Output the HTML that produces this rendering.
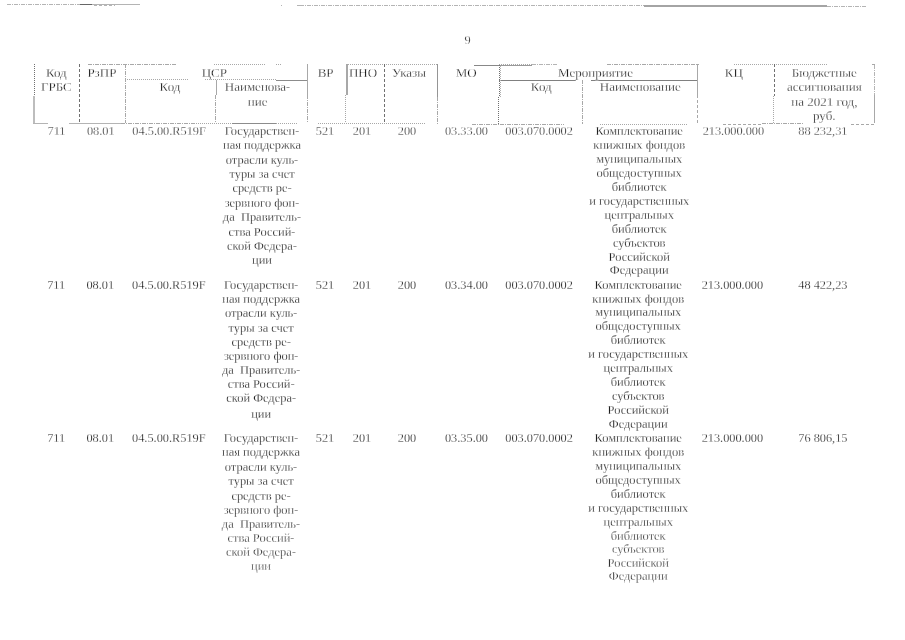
<!DOCTYPE html>
<html lang="ru"><head><meta charset="utf-8"><title>9</title>
<style>
html,body{margin:0;padding:0;background:#fff}
body{width:905px;height:640px;position:relative;overflow:hidden;font-family:"Liberation Serif",serif;font-size:12.45px;color:#000;-webkit-text-stroke:0.27px #fff}
.c{position:absolute;width:200px;text-align:center;white-space:nowrap;line-height:14px;height:14px}
.h{line-height:15px;height:15px}
.d1{-webkit-text-stroke-width:0.26px}
.f1{-webkit-text-stroke-width:0.3px}
.f2{-webkit-text-stroke-width:0.33px}
.f3{-webkit-text-stroke-width:0.37px}
i{position:absolute;display:block}
</style></head><body>
<i style="left:7px;top:4px;width:73px;height:1px;background:repeating-linear-gradient(to right,#b4b4b4 0 4px,transparent 4px 5px,#b4b4b4 5px 6px,transparent 6px 7px)"></i>
<i style="left:80px;top:4px;width:12px;height:1px;background:#666"></i>
<i style="left:92px;top:4px;width:48px;height:1px;background:#b4b4b4"></i>
<i style="left:94px;top:5px;width:21px;height:1px;background:repeating-linear-gradient(to right,#b4b4b4 0 3px,transparent 3px 5px)"></i>
<i style="left:281px;top:5px;width:1px;height:1px;background:#b4b4b4"></i>
<i style="left:297px;top:5px;width:3px;height:1px;background:#b4b4b4"></i>
<i style="left:300px;top:5px;width:344px;height:1px;background:repeating-linear-gradient(to right,#b4b4b4 0 4px,transparent 4px 5px,#b4b4b4 5px 6px,transparent 6px 7px)"></i>
<i style="left:644px;top:5px;width:183px;height:2px;background:#a4a4a4"></i>
<i style="left:827px;top:6px;width:39px;height:1px;background:repeating-linear-gradient(to right,#b4b4b4 0 4px,transparent 4px 5px,#b4b4b4 5px 6px,transparent 6px 7px)"></i>
<i style="left:88px;top:64px;width:88px;height:1px;background:repeating-linear-gradient(to right,#a8a8a8 0 4px,transparent 4px 5px,#a8a8a8 5px 6px,transparent 6px 7px)"></i>
<i style="left:214px;top:64px;width:51px;height:1px;background:repeating-linear-gradient(to right,#a8a8a8 0 1px,transparent 1px 2px)"></i>
<i style="left:276px;top:64px;width:6px;height:1px;background:repeating-linear-gradient(to right,#a8a8a8 0 1px,transparent 1px 2px)"></i>
<i style="left:346px;top:64px;width:92px;height:1px;background:repeating-linear-gradient(to right,#a8a8a8 0 1px,transparent 1px 2px)"></i>
<i style="left:474px;top:65px;width:25px;height:1px;background:#888"></i>
<i style="left:499px;top:65px;width:33px;height:1px;background:#999"></i>
<i style="left:499px;top:64px;width:33px;height:1px;background:repeating-linear-gradient(to right,#a8a8a8 0 1px,transparent 1px 2px)"></i>
<i style="left:532px;top:64px;width:26px;height:1px;background:repeating-linear-gradient(to right,#b4b4b4 0 4px,transparent 4px 5px,#b4b4b4 5px 6px,transparent 6px 7px)"></i>
<i style="left:607px;top:64px;width:92px;height:1px;background:repeating-linear-gradient(to right,#a8a8a8 0 4px,transparent 4px 5px,#a8a8a8 5px 6px,transparent 6px 7px)"></i>
<i style="left:734px;top:64px;width:93px;height:1px;background:repeating-linear-gradient(to right,#a8a8a8 0 1px,transparent 1px 2px)"></i>
<i style="left:872px;top:64px;width:3px;height:1px;background:#a8a8a8"></i>
<i style="left:125px;top:79px;width:64px;height:1px;background:repeating-linear-gradient(to right,#a8a8a8 0 1px,transparent 1px 2px)"></i>
<i style="left:205px;top:79px;width:71px;height:1px;background:repeating-linear-gradient(to right,#a8a8a8 0 1px,transparent 1px 2px)"></i>
<i style="left:276px;top:80px;width:32px;height:1px;background:#8c8c8c"></i>
<i style="left:499px;top:80px;width:77px;height:1px;background:#808080"></i>
<i style="left:591px;top:80px;width:107px;height:1px;background:#808080"></i>
<i style="left:33px;top:123px;width:15px;height:1px;background:#b4b4b4"></i>
<i style="left:69px;top:123px;width:52px;height:1px;background:#b4b4b4"></i>
<i style="left:121px;top:123px;width:77px;height:1px;background:repeating-linear-gradient(to right,#a8a8a8 0 4px,transparent 4px 5px,#a8a8a8 5px 6px,transparent 6px 7px)"></i>
<i style="left:198px;top:123px;width:34px;height:1px;background:repeating-linear-gradient(to right,#a8a8a8 0 1px,transparent 1px 2px)"></i>
<i style="left:232px;top:123px;width:44px;height:1px;background:#8c8c8c"></i>
<i style="left:276px;top:123px;width:22px;height:1px;background:repeating-linear-gradient(to right,#a8a8a8 0 1px,transparent 1px 2px)"></i>
<i style="left:318px;top:123px;width:107px;height:1px;background:repeating-linear-gradient(to right,#a8a8a8 0 1px,transparent 1px 2px)"></i>
<i style="left:472px;top:124px;width:92px;height:1px;background:repeating-linear-gradient(to right,#a8a8a8 0 4px,transparent 4px 5px,#a8a8a8 5px 6px,transparent 6px 7px)"></i>
<i style="left:600px;top:124px;width:87px;height:1px;background:repeating-linear-gradient(to right,#a8a8a8 0 1px,transparent 1px 2px)"></i>
<i style="left:723px;top:124px;width:39px;height:1px;background:repeating-linear-gradient(to right,#a8a8a8 0 3px,transparent 3px 5px)"></i>
<i style="left:762px;top:123px;width:41px;height:1px;background:repeating-linear-gradient(to right,#a8a8a8 0 4px,transparent 4px 5px,#a8a8a8 5px 6px,transparent 6px 7px)"></i>
<i style="left:851px;top:124px;width:24px;height:1px;background:repeating-linear-gradient(to right,#a8a8a8 0 3px,transparent 3px 5px)"></i>
<i style="left:34px;top:64px;width:1px;height:32px;background:repeating-linear-gradient(to bottom,#707070 0 1px,transparent 1px 2px)"></i>
<i style="left:33px;top:96px;width:2px;height:27px;background:#bdbdbd"></i>
<i style="left:79px;top:64px;width:1px;height:59px;background:repeating-linear-gradient(to bottom,#707070 0 3px,transparent 3px 5px)"></i>
<i style="left:125px;top:64px;width:1px;height:59px;background:repeating-linear-gradient(to bottom,#a8a8a8 0 4px,transparent 4px 5px,#a8a8a8 5px 6px,transparent 6px 7px)"></i>
<i style="left:216px;top:80px;width:1px;height:15px;background:#a8a8a8"></i>
<i style="left:215px;top:95px;width:1px;height:28px;background:repeating-linear-gradient(to bottom,#a8a8a8 0 4px,transparent 4px 5px,#a8a8a8 5px 6px,transparent 6px 7px)"></i>
<i style="left:307px;top:64px;width:1px;height:31px;background:#a8a8a8"></i>
<i style="left:307px;top:95px;width:1px;height:28px;background:repeating-linear-gradient(to bottom,#a8a8a8 0 4px,transparent 4px 5px,#a8a8a8 5px 6px,transparent 6px 7px)"></i>
<i style="left:346px;top:64px;width:2px;height:31px;background:#a8a8a8"></i>
<i style="left:345px;top:95px;width:1px;height:28px;background:repeating-linear-gradient(to bottom,#a8a8a8 0 1px,transparent 1px 2px)"></i>
<i style="left:384px;top:64px;width:1px;height:59px;background:repeating-linear-gradient(to bottom,#707070 0 3px,transparent 3px 5px)"></i>
<i style="left:437px;top:64px;width:1px;height:33px;background:#959595"></i>
<i style="left:437px;top:97px;width:1px;height:27px;background:repeating-linear-gradient(to bottom,#a8a8a8 0 4px,transparent 4px 5px,#a8a8a8 5px 6px,transparent 6px 7px)"></i>
<i style="left:499px;top:65px;width:1px;height:32px;background:repeating-linear-gradient(to bottom,#707070 0 1px,transparent 1px 2px)"></i>
<i style="left:500px;top:66px;width:1px;height:31px;background:repeating-linear-gradient(to bottom,#b0b0b0 0 1px,transparent 1px 2px)"></i>
<i style="left:498px;top:97px;width:1px;height:27px;background:repeating-linear-gradient(to bottom,#707070 0 1px,transparent 1px 2px)"></i>
<i style="left:582px;top:80px;width:1px;height:44px;background:repeating-linear-gradient(to bottom,#a8a8a8 0 4px,transparent 4px 5px,#a8a8a8 5px 6px,transparent 6px 7px)"></i>
<i style="left:697px;top:64px;width:1px;height:31px;background:#a8a8a8"></i>
<i style="left:697px;top:95px;width:1px;height:28px;background:repeating-linear-gradient(to bottom,#a8a8a8 0 3px,transparent 3px 5px)"></i>
<i style="left:774px;top:64px;width:1px;height:32px;background:repeating-linear-gradient(to bottom,#707070 0 3px,transparent 3px 5px)"></i>
<i style="left:773px;top:96px;width:1px;height:27px;background:repeating-linear-gradient(to bottom,#a8a8a8 0 1px,transparent 1px 2px)"></i>
<i style="left:874px;top:65px;width:1px;height:30px;background:repeating-linear-gradient(to bottom,#b4b4b4 0 4px,transparent 4px 5px,#b4b4b4 5px 6px,transparent 6px 7px)"></i>
<i style="left:874px;top:95px;width:1px;height:28px;background:#a8a8a8"></i>
<div class="c h f1" style="left:-43.70px;top:65px;font-size:13.0px">Код</div>
<div class="c h f1" style="left:-43.70px;top:79px;font-size:13.0px">ГРБС</div>
<div class="c h f1" style="left:1.90px;top:65px;font-size:13.0px">РзПР</div>
<div class="c h f1" style="left:114.40px;top:65px;font-size:13.0px">ЦСР</div>
<div class="c h f1" style="left:70.00px;top:79px;font-size:13.0px">Код</div>
<div class="c h f1" style="left:157.60px;top:79px;font-size:13.0px">Наименова-</div>
<div class="c h f1" style="left:157.60px;top:94px;font-size:13.0px">ние</div>
<div class="c h f1" style="left:225.60px;top:65px;font-size:13.0px">ВР</div>
<div class="c h f1" style="left:263.00px;top:65px;font-size:13.0px">ПНО</div>
<div class="c h f1" style="left:309.00px;top:65px;font-size:13.0px">Указы</div>
<div class="c h f1" style="left:366.25px;top:65px;font-size:13.0px">МО</div>
<div class="c h f1" style="left:495.60px;top:65px;font-size:13.0px">Мероприятие</div>
<div class="c h f1" style="left:441.25px;top:79px;font-size:13.0px">Код</div>
<div class="c h f1" style="left:540.25px;top:79px;font-size:13.0px">Наименование</div>
<div class="c h f1" style="left:633.75px;top:65px;font-size:13.0px">КЦ</div>
<div class="c h f1" style="left:724.30px;top:65px;font-size:13.0px">Бюджетные</div>
<div class="c h f1" style="left:724.30px;top:79px;font-size:13.0px">ассигнования</div>
<div class="c h f1" style="left:724.30px;top:94px;font-size:13.0px">на 2021 год,</div>
<div class="c h f1" style="left:724.30px;top:108px;font-size:13.0px">руб.</div>
<div class="c f2" style="left:-43.50px;top:124px;font-size:12.3px">711</div>
<div class="c f2" style="left:0.80px;top:124px;font-size:12.3px">08.01</div>
<div class="c f2" style="left:69.10px;top:124px;font-size:12.3px">04.5.00.R519F</div>
<div class="c" style="left:162.00px;top:124px">Государствен-</div>
<div class="c" style="left:162.00px;top:138px">ная поддержка</div>
<div class="c" style="left:162.00px;top:153px">отрасли куль-</div>
<div class="c" style="left:162.00px;top:167px">туры за счет</div>
<div class="c" style="left:162.00px;top:181px">средств ре-</div>
<div class="c" style="left:162.00px;top:196px">зервного фон-</div>
<div class="c" style="left:162.00px;top:210px">да&nbsp; Правитель-</div>
<div class="c" style="left:162.00px;top:225px">ства Россий-</div>
<div class="c" style="left:162.00px;top:239px">ской Федера-</div>
<div class="c" style="left:162.00px;top:253px">ции</div>
<div class="c f2" style="left:225.00px;top:124px;font-size:12.3px">521</div>
<div class="c f2" style="left:262.00px;top:124px;font-size:12.3px">201</div>
<div class="c f2" style="left:307.00px;top:124px;font-size:12.3px">200</div>
<div class="c f2" style="left:366.50px;top:124px;font-size:12.3px">03.33.00</div>
<div class="c f2" style="left:439.10px;top:124px;font-size:12.3px">003.070.0002</div>
<div class="c" style="left:539.20px;top:124px">Комплектование</div>
<div class="c" style="left:539.20px;top:138px">книжных фондов</div>
<div class="c" style="left:539.20px;top:152px">муниципальных</div>
<div class="c" style="left:539.20px;top:166px">общедоступных</div>
<div class="c" style="left:539.20px;top:180px">библиотек</div>
<div class="c" style="left:539.20px;top:194px">и государственных</div>
<div class="c" style="left:539.20px;top:208px">центральных</div>
<div class="c" style="left:539.20px;top:222px">библиотек</div>
<div class="c" style="left:539.20px;top:236px">субъектов</div>
<div class="c" style="left:539.20px;top:250px">Российской</div>
<div class="c" style="left:539.20px;top:263px">Федерации</div>
<div class="c f2" style="left:633.40px;top:124px;font-size:12.3px">213.000.000</div>
<div class="c f2" style="left:722.90px;top:124px;font-size:12.3px">88 232,31</div>
<div class="c d1" style="left:-43.80px;top:278px;font-size:12.3px">711</div>
<div class="c d1" style="left:0.30px;top:278px;font-size:12.3px">08.01</div>
<div class="c d1" style="left:68.80px;top:278px;font-size:12.3px">04.5.00.R519F</div>
<div class="c d1" style="left:161.20px;top:278px">Государствен-</div>
<div class="c d1" style="left:161.20px;top:292px">ная поддержка</div>
<div class="c d1" style="left:161.20px;top:306px">отрасли куль-</div>
<div class="c d1" style="left:161.20px;top:321px">туры за счет</div>
<div class="c d1" style="left:161.20px;top:335px">средств ре-</div>
<div class="c d1" style="left:161.20px;top:349px">зервного фон-</div>
<div class="c d1" style="left:161.20px;top:363px">да&nbsp; Правитель-</div>
<div class="c d1" style="left:161.20px;top:377px">ства Россий-</div>
<div class="c d1" style="left:161.20px;top:391px">ской Федера-</div>
<div class="c d1" style="left:161.20px;top:407px">ции</div>
<div class="c d1" style="left:225.00px;top:278px;font-size:12.3px">521</div>
<div class="c d1" style="left:262.00px;top:278px;font-size:12.3px">201</div>
<div class="c d1" style="left:307.00px;top:278px;font-size:12.3px">200</div>
<div class="c d1" style="left:366.50px;top:278px;font-size:12.3px">03.34.00</div>
<div class="c d1" style="left:439.10px;top:278px;font-size:12.3px">003.070.0002</div>
<div class="c d1" style="left:538.20px;top:278px">Комплектование</div>
<div class="c d1" style="left:538.20px;top:292px">книжных фондов</div>
<div class="c d1" style="left:538.20px;top:305px">муниципальных</div>
<div class="c d1" style="left:538.20px;top:319px">общедоступных</div>
<div class="c d1" style="left:538.20px;top:333px">библиотек</div>
<div class="c d1" style="left:538.20px;top:347px">и государственных</div>
<div class="c d1" style="left:538.20px;top:361px">центральных</div>
<div class="c d1" style="left:538.20px;top:375px">библиотек</div>
<div class="c d1" style="left:538.20px;top:389px">субъектов</div>
<div class="c d1" style="left:538.20px;top:403px">Российской</div>
<div class="c d1" style="left:538.20px;top:417px">Федерации</div>
<div class="c d1" style="left:632.40px;top:278px;font-size:12.3px">213.000.000</div>
<div class="c d1" style="left:722.90px;top:278px;font-size:12.3px">48 422,23</div>
<div class="c" style="left:-43.80px;top:431px;font-size:12.3px">711</div>
<div class="c" style="left:0.30px;top:431px;font-size:12.3px">08.01</div>
<div class="c" style="left:68.80px;top:431px;font-size:12.3px">04.5.00.R519F</div>
<div class="c" style="left:161.00px;top:431px">Государствен-</div>
<div class="c" style="left:161.00px;top:445px">ная поддержка</div>
<div class="c" style="left:161.00px;top:460px">отрасли куль-</div>
<div class="c" style="left:161.00px;top:474px">туры за счет</div>
<div class="c" style="left:161.00px;top:489px">средств ре-</div>
<div class="c f1" style="left:161.00px;top:503px">зервного фон-</div>
<div class="c f1" style="left:161.00px;top:517px">да&nbsp; Правитель-</div>
<div class="c f2" style="left:161.00px;top:531px">ства Россий-</div>
<div class="c f2" style="left:161.00px;top:545px">ской Федера-</div>
<div class="c f3" style="left:161.00px;top:559px">ции</div>
<div class="c" style="left:225.00px;top:431px;font-size:12.3px">521</div>
<div class="c" style="left:262.00px;top:431px;font-size:12.3px">201</div>
<div class="c" style="left:307.00px;top:431px;font-size:12.3px">200</div>
<div class="c" style="left:366.50px;top:431px;font-size:12.3px">03.35.00</div>
<div class="c" style="left:439.10px;top:431px;font-size:12.3px">003.070.0002</div>
<div class="c" style="left:538.20px;top:431px">Комплектование</div>
<div class="c" style="left:538.20px;top:445px">книжных фондов</div>
<div class="c" style="left:538.20px;top:459px">муниципальных</div>
<div class="c" style="left:538.20px;top:473px">общедоступных</div>
<div class="c" style="left:538.20px;top:487px">библиотек</div>
<div class="c" style="left:538.20px;top:501px">и государственных</div>
<div class="c f1" style="left:538.20px;top:515px">центральных</div>
<div class="c f2" style="left:538.20px;top:529px">библиотек</div>
<div class="c f3" style="left:538.20px;top:542px">субъектов</div>
<div class="c f2" style="left:538.20px;top:556px">Российской</div>
<div class="c f2" style="left:538.20px;top:569px">Федерации</div>
<div class="c" style="left:632.40px;top:431px;font-size:12.3px">213.000.000</div>
<div class="c" style="left:722.90px;top:431px;font-size:12.3px">76 806,15</div>
<div class="c f2" style="left:367.70px;top:33px;font-size:12.3px">9</div>
</body></html>
